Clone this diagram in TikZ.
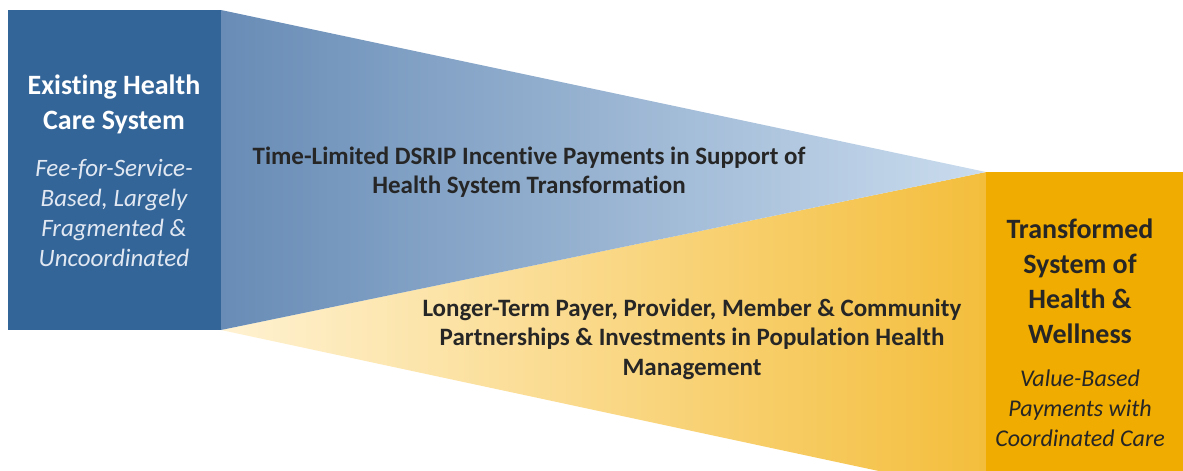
\documentclass[tikz,border=0pt]{standalone}
\usepackage{fontspec}
\setmainfont[Ligatures={NoCommon}]{Carlito}
\definecolor{boxblue}{RGB}{52,101,152}
\definecolor{wedgeblueL}{RGB}{104,140,182}
\definecolor{wedgeblueR}{RGB}{202,220,238}
\definecolor{boxorange}{RGB}{240,172,0}
\definecolor{wedgeorL}{RGB}{255,242,210}
\definecolor{wedgeorR}{RGB}{244,190,60}
\definecolor{darktext}{RGB}{38,38,38}
\definecolor{lighttext}{RGB}{225,232,242}
\tikzset{
  title/.style={align=center,font=\fontsize{28}{35}\selectfont\bfseries},
  sub/.style={align=center,font=\fontsize{25}{30}\selectfont\itshape},
  midtext/.style={align=center,font=\fontsize{25}{29.5}\selectfont\bfseries,text=darktext},
}
\begin{document}
\begin{tikzpicture}[x=1pt,y=-1pt]
\useasboundingbox (0,0) rectangle (1183,471);
% orange wedge
\shade[left color=wedgeorL,right color=wedgeorR] (221,330) -- (986,172) -- (986,494) -- cycle;
% blue wedge
\shade[left color=wedgeblueL,right color=wedgeblueR] (221,10) -- (986,172) -- (221,330) -- cycle;
% boxes
\fill[boxblue] (8,10) rectangle (221,330);
\fill[boxorange] (986,172) rectangle (1183,471);
% texts
\node[title,text=white] (lt) at (114,104) {Existing Health\\Care System};
\node[sub,text=lighttext] (ls) at (114,213) {Fee-for-Service-\\Based, Largely\\Fragmented \&\\Uncoordinated};
\node[midtext] (mt) at (529,172) {Time-Limited DSRIP Incentive Payments in Support of\\Health System Transformation};
\node[midtext] (mb) at (692,339) {Longer-Term Payer, Provider, Member \& Community\\Partnerships \& Investments in Population Health\\Management};
\node[title,text=darktext] (rt) at (1080,281) {Transformed\\System of\\Health \&\\Wellness};
\node[sub,text=darktext,font=\fontsize{24}{30}\selectfont\itshape] (rs) at (1080,408) {Value-Based\\Payments with\\Coordinated Care};
\end{tikzpicture}
\end{document}
